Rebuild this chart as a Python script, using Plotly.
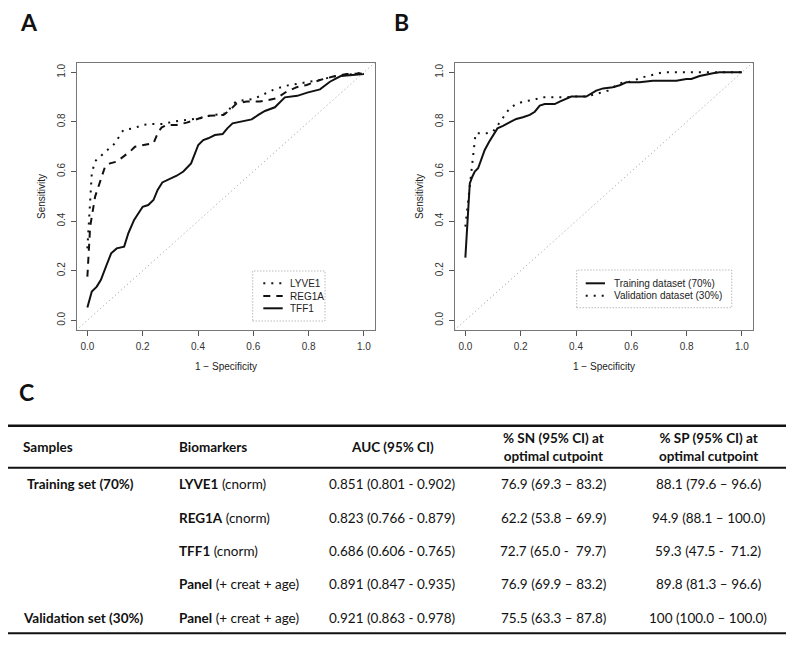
import plotly.graph_objects as go

#----- Data: Panel A (single biomarkers, training set) -----#

lyve1_fpr = [0.000, 0.004, 0.010, 0.016, 0.028, 0.046, 0.070, 0.100, 0.116, 0.130, 0.166,
             0.202, 0.239, 0.275, 0.311, 0.359, 0.407, 0.455, 0.504, 0.528, 0.552, 0.600,
             0.636, 0.672, 0.714, 0.769, 0.841, 0.889, 0.937, 1.000]
lyve1_tpr = [0.290, 0.378, 0.485, 0.593, 0.642, 0.660, 0.680, 0.714, 0.743, 0.767, 0.774,
             0.788, 0.792, 0.792, 0.801, 0.808, 0.815, 0.828, 0.835, 0.875, 0.886, 0.892,
             0.911, 0.929, 0.945, 0.956, 0.969, 0.983, 0.989, 0.999]

reg1a_fpr = [0.000, 0.004, 0.010, 0.016, 0.028, 0.046, 0.064, 0.082, 0.106, 0.130, 0.154,
             0.172, 0.202, 0.239, 0.257, 0.269, 0.287, 0.323, 0.359, 0.395, 0.431, 0.492,
             0.516, 0.540, 0.576, 0.624, 0.660, 0.684, 0.720, 0.757, 0.793, 0.841, 0.889,
             0.937, 1.000]
reg1a_tpr = [0.176, 0.270, 0.378, 0.418, 0.499, 0.559, 0.620, 0.633, 0.640, 0.660, 0.680,
             0.700, 0.707, 0.714, 0.761, 0.778, 0.788, 0.788, 0.797, 0.810, 0.824, 0.828,
             0.848, 0.875, 0.882, 0.882, 0.888, 0.895, 0.922, 0.940, 0.949, 0.969, 0.983,
             0.993, 0.996]

tff1_fpr = [0.000, 0.016, 0.034, 0.049, 0.067, 0.086, 0.106, 0.133, 0.148, 0.169, 0.200,
            0.220, 0.239, 0.254, 0.271, 0.299, 0.323, 0.347, 0.375, 0.401, 0.419, 0.437,
            0.461, 0.489, 0.506, 0.525, 0.552, 0.594, 0.618, 0.642, 0.678, 0.714, 0.759,
            0.795, 0.841, 0.877, 0.916, 0.961, 1.000]
tff1_tpr = [0.052, 0.116, 0.136, 0.163, 0.216, 0.270, 0.290, 0.297, 0.351, 0.405, 0.458,
            0.465, 0.485, 0.526, 0.556, 0.570, 0.583, 0.600, 0.633, 0.707, 0.727, 0.734,
            0.747, 0.751, 0.774, 0.794, 0.800, 0.810, 0.828, 0.844, 0.859, 0.899, 0.905,
            0.918, 0.931, 0.962, 0.985, 0.988, 0.993]

#----- Data: Panel B (panel model, training vs validation) -----#

train_fpr = [0.000, 0.004, 0.010, 0.016, 0.025, 0.034, 0.046, 0.058, 0.070, 0.086, 0.100,
             0.116, 0.136, 0.160, 0.184, 0.208, 0.233, 0.251, 0.269, 0.287, 0.323, 0.341,
             0.365, 0.383, 0.437, 0.455, 0.473, 0.498, 0.533, 0.558, 0.582, 0.630, 0.678,
             0.763, 0.799, 0.817, 0.847, 0.895, 0.919, 1.000]
train_tpr = [0.253, 0.324, 0.431, 0.552, 0.579, 0.600, 0.613, 0.647, 0.687, 0.720, 0.743,
             0.774, 0.784, 0.797, 0.812, 0.819, 0.828, 0.841, 0.866, 0.872, 0.872, 0.882,
             0.895, 0.902, 0.902, 0.913, 0.926, 0.935, 0.940, 0.948, 0.960, 0.960, 0.966,
             0.966, 0.973, 0.973, 0.985, 0.996, 1.000, 1.000]

valid_fpr = [0.000, 0.004, 0.012, 0.019, 0.025, 0.031, 0.037, 0.076, 0.100, 0.118, 0.130,
             0.142, 0.160, 0.178, 0.208, 0.245, 0.275, 0.365, 0.389, 0.437, 0.473, 0.516,
             0.558, 0.594, 0.642, 0.690, 0.714, 1.000]
valid_tpr = [0.378, 0.418, 0.499, 0.579, 0.633, 0.700, 0.754, 0.754, 0.761, 0.788, 0.808,
             0.828, 0.855, 0.868, 0.882, 0.888, 0.899, 0.899, 0.902, 0.902, 0.913, 0.926,
             0.956, 0.962, 0.980, 0.993, 1.000, 1.000]

# Reference (chance) line y = x, running across the whole frame
chance_xy = [-0.05, 1.05]

axis_ticks = [0.0, 0.2, 0.4, 0.6, 0.8, 1.0]
axis_tick_labels = ['0.0', '0.2', '0.4', '0.6', '0.8', '1.0']

names_a = ['LYVE1', 'REG1A', 'TFF1']
names_b = ['Training dataset (70%)', 'Validation dataset (30%)']

#----- Data: Table C -----#

table_header = ['Samples', 'Biomarkers', 'AUC (95% CI)',
                '% SN (95% CI) at<br>optimal cutpoint', '% SP (95% CI) at<br>optimal cutpoint']
row_samples = ['Training set (70%)', '', '', '', 'Validation set (30%)']
row_markers = ['LYVE1', 'REG1A', 'TFF1', 'Panel', 'Panel']
row_marker_notes = ['(cnorm)', '(cnorm)', '(cnorm)', '(+ creat + age)', '(+ creat + age)']
row_auc = ['0.851 (0.801 - 0.902)', '0.823 (0.766 - 0.879)', '0.686 (0.606 - 0.765)',
           '0.891 (0.847 - 0.935)', '0.921 (0.863 - 0.978)']
row_sn = ['76.9 (69.3 \u2013 83.2)', '62.2 (53.8 \u2013 69.9)', '72.7 (65.0 -\u00a0 79.7)',
          '76.9 (69.9 \u2013 83.2)', '75.5 (63.3 \u2013 87.8)']
row_sp = ['88.1 (79.6 \u2013 96.6)', '94.9 (88.1 \u2013 100.0)', '59.3 (47.5 -\u00a0 71.2)',
          '89.8 (81.3 \u2013 96.6)', '100 (100.0 \u2013 100.0)']

#----- Helpers: page pixel -> paper coordinates -----#

# The page body keeps its default 8px margin, so the figure is drawn 8px smaller
# and every page position is shifted by that margin.
PAGE_MARGIN = 8
W, H = 800 - PAGE_MARGIN, 648 - PAGE_MARGIN


def px(x):
    ''' Page pixel x to paper fraction '''
    return (x - PAGE_MARGIN) / W


def py(y):
    ''' Page pixel y (from top) to paper fraction '''
    return 1 - (y - PAGE_MARGIN) / H


R_FONT = 'Liberation Sans, Arial, sans-serif'
T_FONT = 'Lato, Open Sans, sans-serif'
DOT = '2px,6px'
DASH = '7px,6px'

fig = go.Figure()

## Panel A traces
styles_a = [DOT, DASH, 'solid']
for name, xs, ys, dash in zip(names_a, [lyve1_fpr, reg1a_fpr, tff1_fpr],
                              [lyve1_tpr, reg1a_tpr, tff1_tpr], styles_a):
    fig.add_trace(go.Scatter(x=xs, y=ys, mode='lines', name=name,
                             line=dict(color='#111111', width=2, dash=dash),
                             showlegend=False, xaxis='x', yaxis='y'))
fig.add_trace(go.Scatter(x=chance_xy, y=chance_xy, mode='lines',
                         line=dict(color='#999999', width=1, dash='1px,3px'),
                         showlegend=False, xaxis='x', yaxis='y'))

## Panel B traces
styles_b = ['solid', DOT]
for name, xs, ys, dash in zip(names_b, [train_fpr, valid_fpr], [train_tpr, valid_tpr], styles_b):
    fig.add_trace(go.Scatter(x=xs, y=ys, mode='lines', name=name,
                             line=dict(color='#111111', width=2, dash=dash),
                             showlegend=False, xaxis='x2', yaxis='y2'))
fig.add_trace(go.Scatter(x=chance_xy, y=chance_xy, mode='lines',
                         line=dict(color='#999999', width=1, dash='1px,3px'),
                         showlegend=False, xaxis='x2', yaxis='y2'))

## Axes (R base-graphics look)
axis_common = dict(
    tickmode='array', tickvals=axis_ticks, ticktext=axis_tick_labels,
    ticks='outside', ticklen=5, tickwidth=1, tickcolor='#555555',
    showline=True, mirror=True, linecolor='#777777', linewidth=1,
    showgrid=False, zeroline=False, ticklabelstandoff=2,
    tickfont=dict(family=R_FONT, size=10, color='#333333'),
    title_font=dict(family=R_FONT, size=10, color='#222222'),
)
x_range = [-0.0375, 1.04]
y_range = [-0.039, 1.0375]
dom_y = [py(330), py(63)]

fig.update_layout(
    xaxis=dict(domain=[px(77), px(375)], range=x_range, anchor='y',
               title=dict(text='1 \u2212 Specificity', standoff=11), **axis_common),
    yaxis=dict(domain=dom_y, range=y_range, anchor='x', tickangle=-90,
               title=dict(text='Sensitivity', standoff=8), **axis_common),
    xaxis2=dict(domain=[px(455), px(753)], range=x_range, anchor='y2',
                title=dict(text='1 \u2212 Specificity', standoff=11), **axis_common),
    yaxis2=dict(domain=dom_y, range=y_range, anchor='x2', tickangle=-90,
                title=dict(text='Sensitivity', standoff=8), **axis_common),
)

shapes = []
annotations = []

## Legends drawn inside each panel (R style dotted box)
def add_legend(names, dashes, box, line_x, text_x, ys):
    ''' Adds an R-style legend box built from shapes and annotations '''
    shapes.append(dict(type='rect', xref='paper', yref='paper',
                       x0=px(box[0]), x1=px(box[2]), y0=py(box[3]), y1=py(box[1]),
                       line=dict(color='#999999', width=1, dash='1px,2px'),
                       fillcolor='white', layer='above'))
    for name, dash, y in zip(names, dashes, ys):
        shapes.append(dict(type='line', xref='paper', yref='paper',
                           x0=px(line_x[0]), x1=px(line_x[1]), y0=py(y), y1=py(y),
                           line=dict(color='#111111', width=2, dash=dash), layer='above'))
        annotations.append(dict(text=name, xref='paper', yref='paper', x=px(text_x), y=py(y),
                                xanchor='left', yanchor='middle', showarrow=False,
                                font=dict(family=R_FONT, size=10, color='#222222')))


add_legend(names_a, styles_a, (252.7, 271, 325, 321), (263.3, 282.7), 288, [283.3, 296, 308.3])
add_legend(names_b, styles_b, (576.7, 270, 731.7, 307.7), (585.7, 605), 612, [283.3, 295.7])

## Panel letters
for letter, x, y in [('A', 18, 22), ('B', 392, 22), ('C', 17, 392)]:
    annotations.append(dict(text='<b>' + letter + '</b>', xref='paper', yref='paper',
                            x=px(x), y=py(y), xanchor='left', yanchor='middle',
                            showarrow=False,
                            font=dict(family=T_FONT, size=23, color='#111111')))

## Table C
tfont = dict(family=T_FONT, size=13.5, color='#111111')
col_x = [21, 176.5, 392, 553, 708]
col_anchor = ['left', 'left', 'center', 'center', 'center']
header_y = 447
row_y0, row_step = 484.3, 33.35

for text, x, anchor in zip(table_header, col_x, col_anchor):
    annotations.append(dict(text='<b>' + text + '</b>', xref='paper', yref='paper',
                            x=px(x), y=py(header_y), xanchor=anchor, yanchor='middle',
                            showarrow=False, align='center', font=tfont))

for i in range(len(row_markers)):
    y = py(row_y0 + i * row_step)
    cells = [
        '<b>' + row_samples[i] + '</b>' if row_samples[i] else '',
        '<b>' + row_markers[i] + '</b> ' + row_marker_notes[i],
        row_auc[i], row_sn[i], row_sp[i],
    ]
    for j, (text, x, anchor) in enumerate(zip(cells, col_x, col_anchor)):
        if not text:
            continue
        # training-set label sits slightly indented in the original
        x_off = 4 if (j == 0 and i == 0) else 0
        annotations.append(dict(text=text, xref='paper', yref='paper',
                                x=px(x + x_off), y=y, xanchor=anchor, yanchor='middle',
                                showarrow=False, font=tfont))

for y, w in [(425.7, 2.5), (467.7, 2), (633.3, 2)]:
    shapes.append(dict(type='line', xref='paper', yref='paper',
                       x0=px(8), x1=px(786), y0=py(y), y1=py(y),
                       line=dict(color='#111111', width=w)))

fig.update_layout(
    width=W, height=H,
    margin=dict(l=0, r=0, t=0, b=0),
    paper_bgcolor='white', plot_bgcolor='white',
    shapes=shapes, annotations=annotations,
    showlegend=False,
)

fig.write_html('out.html')
